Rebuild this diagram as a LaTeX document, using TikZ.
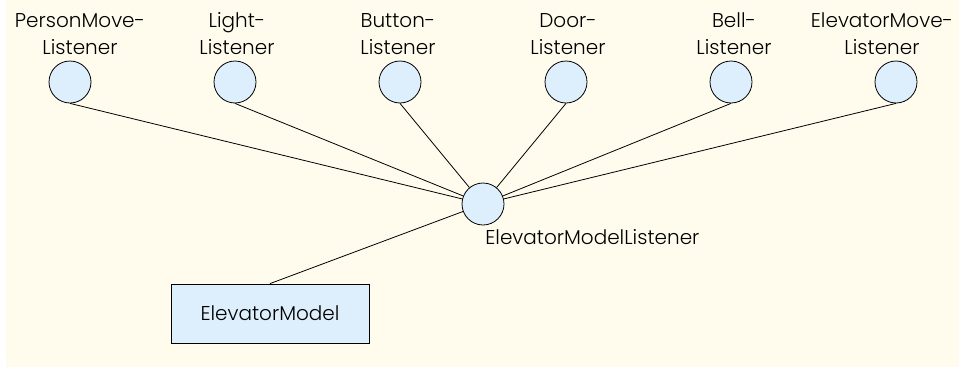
\documentclass[tikz,border=0pt]{standalone}
\usepackage{fontspec}
\setmainfont{Poppins}[UprightFont=* Light]
\usetikzlibrary{positioning}
\definecolor{ccream}{HTML}{FFFCEE}
\definecolor{cblue}{HTML}{DDEFFC}
\tikzset{
  every picture/.style={line width=0.6pt},
  iface/.style={circle, draw=black, fill=cblue, minimum size=31.5pt, inner sep=0pt},
  model/.style={draw=black, fill=cblue, minimum width=148.5pt, minimum height=44.25pt, inner sep=0pt},
  lbl/.style={font=\fontsize{15pt}{20pt}\selectfont, align=center, inner sep=0pt},
  link/.style={draw=black, line width=0.6pt},
}
\begin{document}
\begin{tikzpicture}[x=0.75pt, y=-0.75pt]
  \useasboundingbox (0,0) rectangle (959,368);
  \fill[ccream] (6,0) rectangle (959,366.5);
  % listener interfaces
  \node[iface] (pm) at (70,82) {};
  \node[iface] (li) at (235,82) {};
  \node[iface] (bu) at (400,82) {};
  \node[iface] (do) at (566,82) {};
  \node[iface] (be) at (731,82) {};
  \node[iface] (em) at (896,82) {};
  \node[lbl, above=4.5pt of pm, xshift=7.5pt] (pml) {PersonMove-\\Listener};
  \node[lbl, above=4.5pt of li, xshift=1.5pt] (lil) {Light-\\Listener};
  \node[lbl, above=4.5pt of bu, xshift=-1.5pt] (bul) {Button-\\Listener};
  \node[lbl, above=4.5pt of do, xshift=1.5pt] (dol) {Door-\\Listener};
  \node[lbl, above=4.5pt of be, xshift=2.25pt] (bel) {Bell-\\Listener};
  \node[lbl, above=4.5pt of em, xshift=-10.5pt] (eml) {ElevatorMove-\\Listener};
  % model listener and model
  \node[iface] (ml) at (483,204) {};
  \node[lbl, anchor=base west] (mll) at (485,244) {ElevatorModelListener};
  \node[model, font=\fontsize{15pt}{20pt}\selectfont] (mo) at (270,313.5) {ElevatorModel};
  \foreach \n in {pm, li, bu, do, be, em}
    \draw[link] (\n.south) -- (ml);
  \draw[link] (mo.north) -- (ml);
\end{tikzpicture}
\end{document}
